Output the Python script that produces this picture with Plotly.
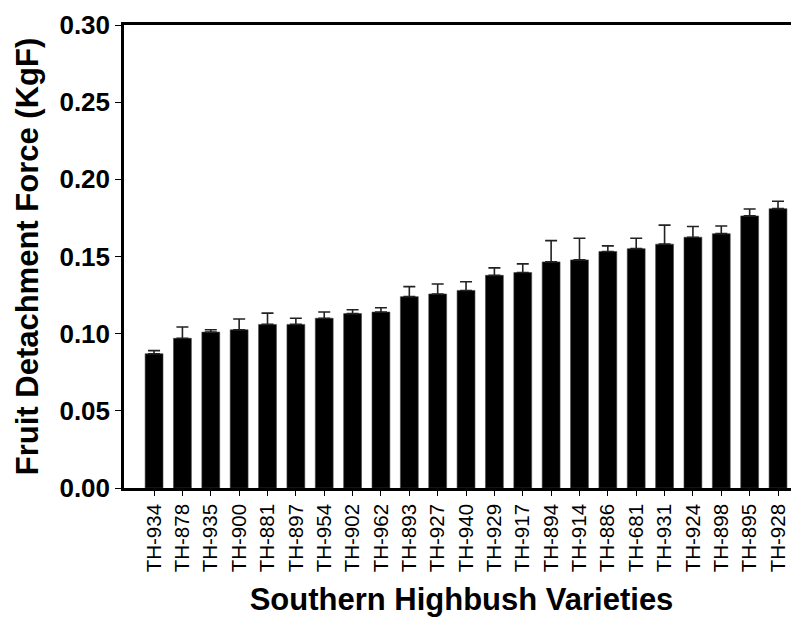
import plotly.graph_objects as go

varieties = ["TH-934", "TH-878", "TH-935", "TH-900", "TH-881", "TH-897", "TH-954", "TH-902",
             "TH-962", "TH-893", "TH-927", "TH-940", "TH-929", "TH-917", "TH-894", "TH-914",
             "TH-886", "TH-681", "TH-931", "TH-924", "TH-898", "TH-895", "TH-928"]
force = [0.087, 0.097, 0.101, 0.1025, 0.106, 0.106, 0.110, 0.113,
         0.114, 0.124, 0.1257, 0.128, 0.1378, 0.1396, 0.1465, 0.1478,
         0.1532, 0.1551, 0.158, 0.1625, 0.1648, 0.1763, 0.181]
err = [0.002, 0.0073, 0.0015, 0.007, 0.0073, 0.004, 0.004, 0.0025,
       0.0028, 0.0065, 0.0065, 0.0056, 0.0048, 0.0056, 0.0138, 0.014,
       0.0037, 0.0067, 0.0123, 0.0069, 0.005, 0.0045, 0.0048]
zeros = [0] * len(err)
yticks = [0.00, 0.05, 0.10, 0.15, 0.20, 0.25, 0.30]

fig = go.Figure(go.Bar(
    x=varieties, y=force, width=0.63,
    marker=dict(color="black", line=dict(color="#444444", width=0.6)),
    error_y=dict(type="data", symmetric=False, array=err, arrayminus=zeros,
                 color="#222222", thickness=1.6, width=6),
))

fig.update_layout(
    width=791, height=609,
    margin=dict(l=116, r=0, t=17, b=129),
    paper_bgcolor="white", plot_bgcolor="white",
    showlegend=False,
    font=dict(family="Liberation Sans, Arial, sans-serif", color="black"),
)
fig.update_xaxes(
    range=[-1.06, 22.74], showgrid=False, zeroline=False,
    showline=True, linecolor="black", linewidth=2.5, mirror=True,
    ticks="outside", ticklen=5, tickwidth=1.2, tickcolor="black",
    tickangle=-90, tickfont=dict(size=20.5),
    title=dict(text="Southern Highbush Varieties",
               font=dict(size=31, weight="bold"), standoff=17),
)
fig.update_yaxes(
    range=[0, 0.30], tickvals=yticks, tickformat=".2f",
    showgrid=False, zeroline=False,
    showline=True, linecolor="black", linewidth=2.5,
    ticks="outside", ticklen=6, tickwidth=1.2, tickcolor="black",
    tickfont=dict(size=26, weight="bold"),
    ticklabelstandoff=0,
    title=dict(text="Fruit Detachment Force (KgF)",
               font=dict(size=31, weight="bold"), standoff=12),
)

fig.write_html("out.html")
